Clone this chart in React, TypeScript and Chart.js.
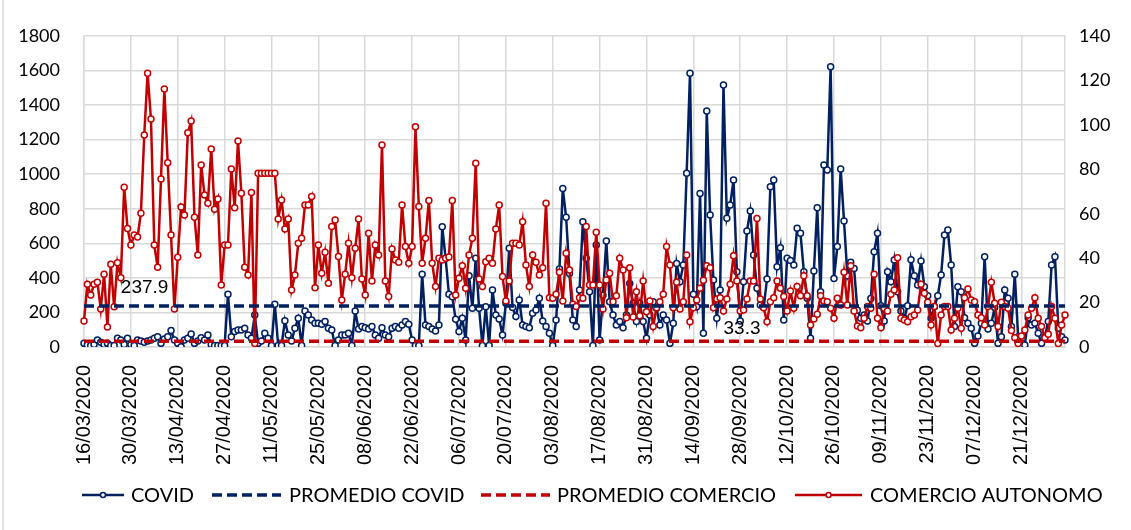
import React, { useEffect, useRef } from "react";
import { Chart, registerables } from "chart.js";

Chart.register(...registerables);

// ---- DATA ----
const START_DATE = { year: 2020, month: 3, day: 16 };
const SERIES_NAMES = ["COVID", "PROMEDIO COVID", "PROMEDIO COMERCIO", "COMERCIO AUTONOMO"];

const COVID = [
  21, 12, 8, 15, 40, 27, 15, 21, 8, 8, 50, 40, 15, 50,
  15, 8, 40, 35, 27, 35, 40, 50, 60, 21, 46, 60, 95, 40,
  21, 2, 40, 50, 75, 21, 35, 54, 40, 69, 15, 8, 8, 8,
  8, 305, 60, 89, 98, 98, 108, 69, 50, 185, 21, 35, 79, 50,
  8, 247, 8, 8, 152, 69, 35, 108, 166, 8, 208, 185, 156, 137,
  137, 131, 147, 108, 98, 8, 40, 69, 69, 79, 8, 208, 104, 118,
  112, 104, 118, 69, 50, 112, 69, 60, 108, 118, 108, 127, 147, 131,
  40, 8, 8, 421, 127, 118, 104, 93, 127, 696, 514, 305, 291, 160,
  90, 166, 40, 413, 224, 513, 224, 8, 233, 8, 330, 185, 162, 69,
  253, 571, 228, 176, 272, 127, 118, 112, 195, 214, 282, 150, 118, 79,
  8, 156, 451, 918, 751, 426, 156, 118, 330, 725, 513, 320, 8, 590,
  40, 300, 613, 262, 185, 127, 147, 112, 185, 368, 253, 147, 253, 147,
  50, 185, 262, 224, 127, 185, 156, 21, 137, 484, 378, 475, 1005, 1584,
  305, 233, 889, 79, 1366, 764, 388, 166, 330, 1516, 745, 822, 967, 436,
  150, 378, 671, 787, 532, 340, 243, 228, 394, 928, 967, 465, 575, 156,
  513, 500, 475, 687, 658, 436, 282, 50, 440, 806, 320, 1053, 1024, 1622,
  397, 581, 1030, 729, 413, 490, 455, 212, 166, 185, 150, 280, 552, 658,
  239, 150, 436, 378, 504, 320, 208, 166, 239, 505, 413, 359, 498, 349,
  297, 166, 233, 297, 417, 648, 677, 475, 118, 349, 320, 170, 137, 108,
  21, 64, 137, 523, 104, 137, 228, 21, 60, 330, 282, 118, 421, 60,
  12, 12, 170, 127, 137, 79, 21, 60, 147, 475, 523, 108, 60, 40,
];

const COMERCIO_AUTONOMO = [
  11.7, 28.2, 23.4, 28.2, 29.1, 17.1, 32.7, 9.0, 37.2, 18.1, 37.9, 31.2, 71.9, 53.4,
  45.9, 50.4, 49.5, 60.2, 95.4, 123.2, 102.6, 45.9, 35.9, 75.6, 116.1, 82.9, 50.4, 17.1,
  40.4, 63.0, 59.4, 96.4, 101.7, 58.4, 41.4, 81.9, 68.4, 64.7, 89.1, 62.0, 66.6, 27.9,
  45.9, 45.9, 80.1, 62.7, 92.7, 69.2, 35.9, 32.4, 69.5, 1.6, 78.2, 78.2, 78.2, 78.2,
  78.2, 78.2, 57.6, 66.2, 53.1, 57.6, 25.7, 32.4, 46.7, 48.9, 63.9, 63.9, 67.7, 26.7,
  45.9, 33.2, 42.6, 28.7, 54.2, 57.2, 40.7, 21.2, 32.7, 46.7, 31.2, 44.4, 57.6, 30.6,
  23.4, 51.2, 29.7, 45.9, 41.4, 90.9, 29.7, 22.7, 44.1, 39.2, 38.1, 63.9, 45.2, 37.7,
  45.2, 99.2, 63.2, 37.7, 48.9, 65.9, 37.7, 27.2, 39.9, 39.2, 39.9, 40.5, 65.9, 23.4,
  31.0, 36.6, 26.4, 41.4, 48.9, 82.7, 30.6, 27.2, 38.4, 39.9, 37.7, 53.1, 63.9, 31.7,
  20.7, 29.7, 46.7, 46.7, 45.9, 56.4, 36.9, 27.2, 41.4, 38.1, 32.4, 35.7, 64.7, 22.2,
  21.9, 23.7, 33.6, 20.7, 42.2, 34.7, 19.2, 18.2, 22.2, 21.9, 54.2, 27.9, 27.9, 51.6,
  27.9, 17.1, 30.2, 33.2, 20.4, 23.1, 39.9, 34.7, 13.2, 35.7, 13.5, 24.9, 14.1, 29.7,
  15.9, 20.7, 9.2, 17.7, 20.4, 23.7, 45.2, 36.9, 17.7, 29.1, 17.1, 20.4, 41.4, 11.4,
  17.7, 21.2, 26.4, 30.0, 36.6, 35.7, 17.7, 21.6, 22.2, 16.2, 21.6, 28.2, 41.1, 29.7,
  16.2, 16.7, 21.6, 29.7, 29.7, 57.9, 21.6, 17.7, 11.4, 20.4, 22.2, 29.7, 26.4, 22.7,
  16.2, 25.2, 17.4, 27.2, 23.1, 32.1, 23.1, 9.9, 12.6, 14.7, 23.1, 20.7, 20.4, 17.4,
  12.9, 21.9, 18.9, 33.6, 18.9, 36.6, 16.2, 9.5, 8.7, 12.9, 18.2, 17.4, 32.7, 12.9,
  8.7, 17.4, 16.2, 23.7, 25.7, 40.2, 12.9, 12.2, 11.4, 13.6, 14.4, 16.7, 28.2, 24.2,
  20.1, 9.9, 18.2, 1.6, 14.4, 18.2, 18.2, 7.7, 12.9, 17.4, 8.4, 22.2, 26.1, 21.2,
  20.4, 14.4, 13.2, 9.9, 18.2, 29.1, 19.7, 9.2, 20.1, 18.2, 17.4, 7.4, 4.2, 1.6,
  5.0, 7.7, 14.4, 17.4, 22.2, 12.9, 9.2, 4.2, 5.7, 18.2, 12.9, 1.6, 9.9, 14.4,
];

const PROMEDIO_COVID = 237.9;
const PROMEDIO_COMERCIO = 33.3;
const LABEL_INDEX_PROMEDIO_COVID = 11;
const LABEL_INDEX_PROMEDIO_COMERCIO = 191;
const TICK_EVERY = 14;
const LEFT_AXIS = { min: 0, max: 1800, step: 200 };
const RIGHT_AXIS = { min: 0, max: 140, step: 20 };

// ---- STYLE ----
const NAVY = "#002060";
const RED = "#C00000";
const GRID = "#d9d9d9";
const W = 1131;
const H = 530;

function pad2(n: number) {
  return n < 10 ? "0" + n : "" + n;
}
function makeDateLabels(count: number): string[] {
  const base = Date.UTC(START_DATE.year, START_DATE.month - 1, START_DATE.day);
  const out: string[] = [];
  for (let i = 0; i < count; i++) {
    const d = new Date(base + i * 86400000);
    out.push(pad2(d.getUTCDate()) + "/" + pad2(d.getUTCMonth() + 1) + "/" + d.getUTCFullYear());
  }
  return out;
}

const LABELS = makeDateLabels(COVID.length);

const bgPlugin = {
  id: "bg",
  beforeDraw(chart: any) {
    const ctx = chart.ctx;
    ctx.save();
    ctx.fillStyle = "#ffffff";
    ctx.fillRect(0, 0, chart.width, chart.height);
    ctx.strokeStyle = GRID;
    ctx.lineWidth = 1.5;
    ctx.beginPath();
    ctx.moveTo(3, 0);
    ctx.lineTo(3, chart.height);
    ctx.stroke();
    ctx.restore();
  },
};

const avgLabelPlugin = {
  id: "avgLabels",
  afterDatasetsDraw(chart: any) {
    const ctx = chart.ctx;
    const x = chart.scales.x;
    const y = chart.scales.y;
    ctx.save();
    ctx.fillStyle = "#000";
    ctx.font = '19px "Liberation Sans", Arial, sans-serif';
    ctx.textAlign = "left";
    ctx.textBaseline = "middle";
    ctx.fillText(
      PROMEDIO_COVID.toFixed(1),
      x.getPixelForValue(LABEL_INDEX_PROMEDIO_COVID),
      y.getPixelForValue(PROMEDIO_COVID) - 18
    );
    ctx.fillText(
      PROMEDIO_COMERCIO.toFixed(1),
      x.getPixelForValue(LABEL_INDEX_PROMEDIO_COMERCIO),
      y.getPixelForValue(PROMEDIO_COMERCIO) - 12
    );
    ctx.restore();
  },
};

const LEGEND_LAYOUT = [
  { x0: 82, x1: 124, text: 131, marker: true, dashed: false },
  { x0: 212, x1: 281, text: 289, marker: false, dashed: true },
  { x0: 481, x1: 550, text: 557, marker: false, dashed: true },
  { x0: 795, x1: 862, text: 870, marker: true, dashed: false },
];
const LEGEND_COLORS = [NAVY, NAVY, RED, RED];

const legendPlugin = {
  id: "customLegend",
  afterDraw(chart: any) {
    const ctx = chart.ctx;
    const yc = 495;
    ctx.save();
    LEGEND_LAYOUT.forEach((it, i) => {
      const col = LEGEND_COLORS[i];
      ctx.strokeStyle = col;
      ctx.lineWidth = it.dashed ? 3.5 : 2.5;
      ctx.setLineDash(it.dashed ? [10, 5] : []);
      ctx.beginPath();
      ctx.moveTo(it.x0, yc);
      ctx.lineTo(it.x1, yc);
      ctx.stroke();
      ctx.setLineDash([]);
      if (it.marker) {
        ctx.beginPath();
        ctx.arc((it.x0 + it.x1) / 2, yc, 2.5, 0, Math.PI * 2);
        ctx.fillStyle = "#fff";
        ctx.fill();
        ctx.lineWidth = 1.5;
        ctx.stroke();
      }
      ctx.fillStyle = "#000";
      ctx.font = '20px Lato, "Noto Sans", sans-serif';
      ctx.textAlign = "left";
      ctx.textBaseline = "middle";
      ctx.fillText(SERIES_NAMES[i], it.text, yc + 1);
    });
    ctx.restore();
  },
};

export default function App() {
  const ref = useRef<HTMLCanvasElement | null>(null);

  useEffect(() => {
    if (!ref.current) return;
    const tickFont = { family: "Lato, 'Noto Sans', sans-serif", size: 18 };
    const plain = (v: any) => String(v);
    const chart = new Chart(ref.current, {
      type: "line",
      data: {
        labels: LABELS,
        datasets: [
          {
            label: SERIES_NAMES[1],
            data: LABELS.map(() => PROMEDIO_COVID),
            yAxisID: "y",
            borderColor: NAVY,
            borderWidth: 3.5,
            borderDash: [10, 5],
            pointRadius: 0,
            order: 0,
          },
          {
            label: SERIES_NAMES[2],
            data: LABELS.map(() => PROMEDIO_COMERCIO),
            yAxisID: "y",
            borderColor: RED,
            borderWidth: 3.5,
            borderDash: [10, 5],
            pointRadius: 0,
            order: 0,
          },
          {
            label: SERIES_NAMES[3],
            data: COMERCIO_AUTONOMO,
            yAxisID: "y1",
            borderColor: RED,
            borderWidth: 2.5,
            pointRadius: 3,
            pointBorderWidth: 1.5,
            pointBackgroundColor: "#ffffff",
            pointBorderColor: RED,
            tension: 0,
            order: 1,
          },
          {
            label: SERIES_NAMES[0],
            data: COVID,
            yAxisID: "y",
            borderColor: NAVY,
            borderWidth: 2.5,
            pointRadius: 3,
            pointBorderWidth: 1.5,
            pointBackgroundColor: "#ffffff",
            pointBorderColor: NAVY,
            tension: 0,
            order: 2,
          },
        ],
      },
      options: {
        responsive: false,
        animation: false,
        events: [],
        layout: { padding: { top: 36, left: 0, right: 0, bottom: 0 } },
        plugins: {
          legend: { display: false },
          tooltip: { enabled: false },
          title: { display: false },
        },
        scales: {
          x: {
            type: "category",
            offset: false,
            grid: { color: GRID, lineWidth: 1.5, drawTicks: false },
            border: { display: true, color: GRID, width: 1.5 },
            ticks: {
              autoSkip: false,
              minRotation: 90,
              maxRotation: 90,
              padding: 18,
              color: "#000",
              font: { family: "'Liberation Sans', Arial, sans-serif", size: 20 },
              callback: (_v: any, i: number) => (i % TICK_EVERY === 0 ? LABELS[i] : null),
            },
            afterFit: (s: any) => {
              s.height = 183;
            },
          },
          y: {
            position: "left",
            min: LEFT_AXIS.min,
            max: LEFT_AXIS.max,
            grid: { color: GRID, lineWidth: 1.5, drawTicks: false },
            border: { display: true, color: GRID, width: 1.5 },
            ticks: { stepSize: LEFT_AXIS.step, padding: 24, color: "#000", font: tickFont, callback: plain },
            afterFit: (s: any) => {
              s.width = 84;
            },
          },
          y1: {
            position: "right",
            min: RIGHT_AXIS.min,
            max: RIGHT_AXIS.max,
            grid: { display: false, drawTicks: false },
            border: { display: true, color: GRID, width: 1.5 },
            ticks: { stepSize: RIGHT_AXIS.step, padding: 14, color: "#000", font: tickFont, callback: plain },
            afterFit: (s: any) => {
              s.width = 66;
            },
          },
        },
      },
      plugins: [bgPlugin, avgLabelPlugin, legendPlugin],
    } as any);
    return () => chart.destroy();
  }, []);

  return (
    <div style={{ position: "fixed", left: 0, top: 0, width: W, height: H, background: "#fff" }}>
      <canvas ref={ref} width={W} height={H} style={{ width: W, height: H, display: "block" }} />
    </div>
  );
}
